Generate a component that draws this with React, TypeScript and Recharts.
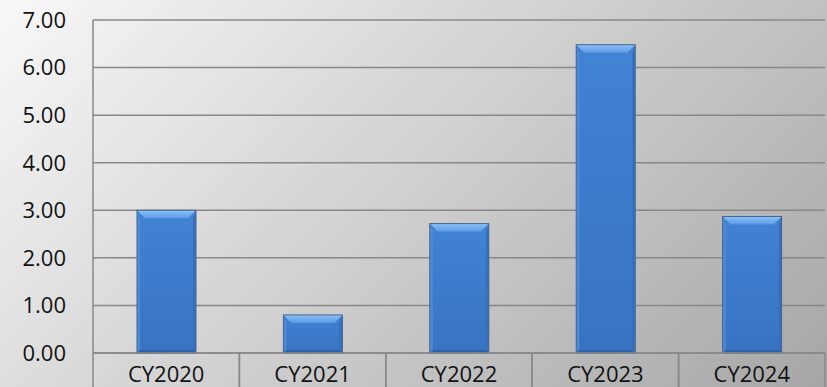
import React from "react";
import { BarChart, Bar, XAxis, YAxis, CartesianGrid } from "recharts";

const years = ["CY2020", "CY2021", "CY2022", "CY2023", "CY2024"];
const values = [3.0, 0.8, 2.72, 6.48, 2.87];
const yTicks = [0, 1, 2, 3, 4, 5, 6, 7];

const data = years.map((year, i) => ({ year, value: values[i] }));

const GRID = "#888888";
const FONT = "'Open Sans', Lato, sans-serif";

// bevelled blue column: light top facet, thin side facets, darker foot
const BevelBar = (props: any) => {
  const { x, y, width: w, height: h } = props;
  if (!h || h <= 0) return null;
  const t = Math.min(8, h / 3);
  const s = 3;
  return (
    <g>
      <rect x={x} y={y} width={w} height={h} fill="url(#barBody)" />
      <polygon
        points={`${x},${y} ${x + w},${y} ${x + w - t},${y + t} ${x + t},${y + t}`}
        fill="url(#barTop)"
      />
      <polygon
        points={`${x},${y} ${x + s},${y + t} ${x + s},${y + h - s} ${x},${y + h}`}
        fill="#4b8bd9"
      />
      <polygon
        points={`${x + w},${y} ${x + w - s},${y + t} ${x + w - s},${y + h - s} ${x + w},${y + h}`}
        fill="#3470bf"
      />
      <polygon
        points={`${x},${y + h} ${x + s},${y + h - s} ${x + w - s},${y + h - s} ${x + w},${y + h}`}
        fill="#2d62a8"
      />
      <rect x={x} y={y} width={w} height={h} fill="none" stroke="#4a6488" strokeWidth={1} />
    </g>
  );
};

// category labels sit in boxed cells under the plot
const CellTick = (props: any) => {
  const { x, y, payload } = props;
  const half = payload && payload.offset ? payload.offset : 73.1;
  return (
    <g>
      <line x1={x - half} y1={y} x2={x - half} y2={y + 40} stroke={GRID} strokeWidth={1.5} />
      <line x1={x + half} y1={y} x2={x + half} y2={y + 40} stroke={GRID} strokeWidth={1.5} />
      <text x={x} y={y + 29} textAnchor="middle" fontSize={22} fontFamily={FONT} fill="#111">
        {payload.value}
      </text>
    </g>
  );
};

export default function App() {
  return (
    <div
      style={{
        width: 827,
        height: 387,
        background: "linear-gradient(135deg, #f8f8f8 0%, #a6a6a6 100%)",
      }}
    >
      <style>{`body{margin:0}`}</style>
      <BarChart
        width={827}
        height={387}
        data={data}
        margin={{ top: 20, right: 2, bottom: 0, left: 0 }}
        barSize={59}
      >
        <defs>
          <linearGradient id="barBody" x1="0" y1="0" x2="0" y2="1">
            <stop offset="0%" stopColor="#4183d4" />
            <stop offset="100%" stopColor="#3873c2" />
          </linearGradient>
          <linearGradient id="barTop" x1="0" y1="0" x2="0" y2="1">
            <stop offset="0%" stopColor="#8cc2f8" />
            <stop offset="100%" stopColor="#5a9ae6" />
          </linearGradient>
        </defs>
        <CartesianGrid vertical={false} stroke={GRID} strokeWidth={1.5} />
        <XAxis
          dataKey="year"
          height={34}
          tickSize={0}
          tickMargin={0}
          interval={0}
          axisLine={{ stroke: GRID, strokeWidth: 1.5 }}
          tickLine={false}
          tick={<CellTick />}
        />
        <YAxis
          width={93}
          domain={[0, 7]}
          ticks={yTicks}
          interval={0}
          tickFormatter={(v: number) => v.toFixed(2)}
          tickSize={0}
          tickMargin={27}
          tickLine={false}
          axisLine={{ stroke: GRID, strokeWidth: 1.5 }}
          tick={{ fontSize: 22, fontFamily: FONT, fill: "#111" }}
        />
        <Bar dataKey="value" shape={<BevelBar />} isAnimationActive={false} />
      </BarChart>
    </div>
  );
}
